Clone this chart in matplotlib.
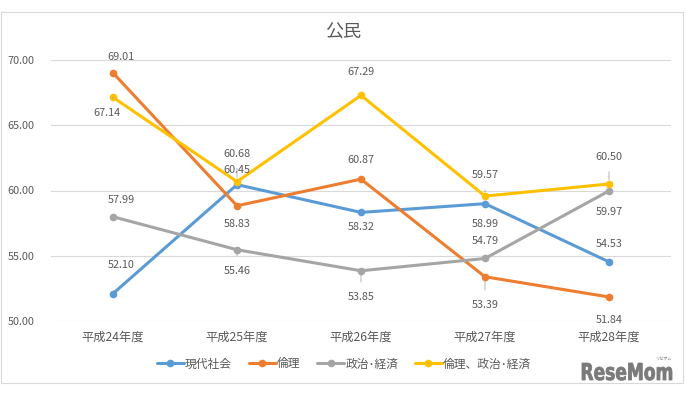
import matplotlib
matplotlib.use("Agg")
import matplotlib.pyplot as plt
from matplotlib.patches import Rectangle, PathPatch
from matplotlib.textpath import TextPath
from matplotlib.font_manager import FontProperties
from matplotlib.transforms import Affine2D

plt.rcParams['font.family'] = ['Noto Sans CJK JP', 'DejaVu Sans']

years = ['平成24年度', '平成25年度', '平成26年度', '平成27年度', '平成28年度']
names = ['現代社会', '倫理', '政治･経済', '倫理、政治･経済']
gendai = [52.10, 60.45, 58.32, 58.99, 54.53]
rinri = [69.01, 58.83, 60.87, 53.39, 51.84]
seikei = [57.99, 55.46, 53.85, 54.79, 59.97]
rinri_seikei = [67.14, 60.68, 67.29, 59.57, 60.50]
series = [gendai, rinri, seikei, rinri_seikei]
colors = ['#5B9BD5', '#ED7D31', '#A5A5A5', '#FFC000']

# label offsets in pixels (dx, dy), positive dy = up; leader line flag
offsets = [
    [(8, 29, 0), (0, 15, 0), (0, -15, 0), (0, -20, 0), (0, 18, 0)],
    [(8, 16, 0), (0, -18, 0), (0, 19, 0), (0, -28, 1), (0, -23, 0)],
    [(8, 17, 0), (0, -21, 1), (0, -26, 1), (0, 17, 1), (0, -21, 0)],
    [(-6, -16, 1), (0, 28, 1), (0, 23, 0), (0, 21, 1), (0, 27, 1)],
]

fig = plt.figure(figsize=(6.86, 3.95), dpi=100)
ax = fig.add_axes([51 / 686, 1 - 321 / 395, 620 / 686, 261 / 395])

x = list(range(len(years)))
for vals, name, c in zip(series, names, colors):
    ax.plot(x, vals, color=c, lw=2.2, marker='o', ms=4.5, label=name,
            solid_capstyle='round', zorder=3)

px = 0.72  # points per pixel at dpi 100
for vals, offs in zip(series, offsets):
    for i, v in enumerate(vals):
        dx, dy, lead = offs[i]
        ax.annotate(f'{v:.2f}', (i, v), xytext=(dx * px, dy * px),
                    textcoords='offset points', ha='center', va='center',
                    fontsize=7.8, color='#595959',
                    arrowprops=dict(arrowstyle='-', color='#A6A6A6', lw=0.6,
                                    shrinkA=5, shrinkB=3) if lead else None,
                    zorder=4)

ax.set_xlim(-0.5, len(years) - 0.5)
ax.set_ylim(50, 70)
ax.set_yticks([50, 55, 60, 65, 70])
ax.set_yticklabels([f'{t:.2f}' for t in [50, 55, 60, 65, 70]])
ax.set_xticks(x)
ax.set_xticklabels(years)
ax.grid(axis='y', color='#D9D9D9', lw=0.8)
ax.set_axisbelow(True)
for s in ax.spines.values():
    s.set_visible(False)
ax.tick_params(length=0, colors='#595959')
ax.tick_params(axis='y', labelsize=7.8, pad=12)
ax.tick_params(axis='x', labelsize=8.8, pad=7)

fig.text(0.5, 1 - 33 / 395, '公民', ha='center', va='center', fontsize=13,
         color='#595959')

fig.legend(loc='center', bbox_to_anchor=(344 / 686, 1 - 364 / 395), ncol=4,
           frameon=False, prop={'size': 8.5}, labelcolor='#595959',
           handlelength=2.3, handletextpad=0.1, columnspacing=1.4)

fig.patches.append(Rectangle((0.5 / 686, 1 - 383 / 395), 682 / 686, 371 / 395,
                             transform=fig.transFigure, fill=False,
                             edgecolor='#D9D9D9', lw=0.8))

# condensed bold watermark
tp = TextPath((0, 0), 'ReseMom', size=1,
              prop=FontProperties(family='DejaVu Sans', weight='bold'))
ext = tp.get_extents()
sx = 90 / ext.width
sy = 17 / 0.73
wm = Affine2D().translate(-ext.x0, 0).scale(sx, sy).translate(582, 395 - 380)
fig.patches.append(PathPatch(tp, transform=wm, facecolor='#7A7A7A',
                             edgecolor='#7A7A7A', lw=0.6))
fig.text(663 / 686, 1 - 359 / 395, 'リセマム', ha='center', va='center',
         fontsize=3, color='#7A7A7A')

fig.savefig('out.png', dpi=100, facecolor='white')
